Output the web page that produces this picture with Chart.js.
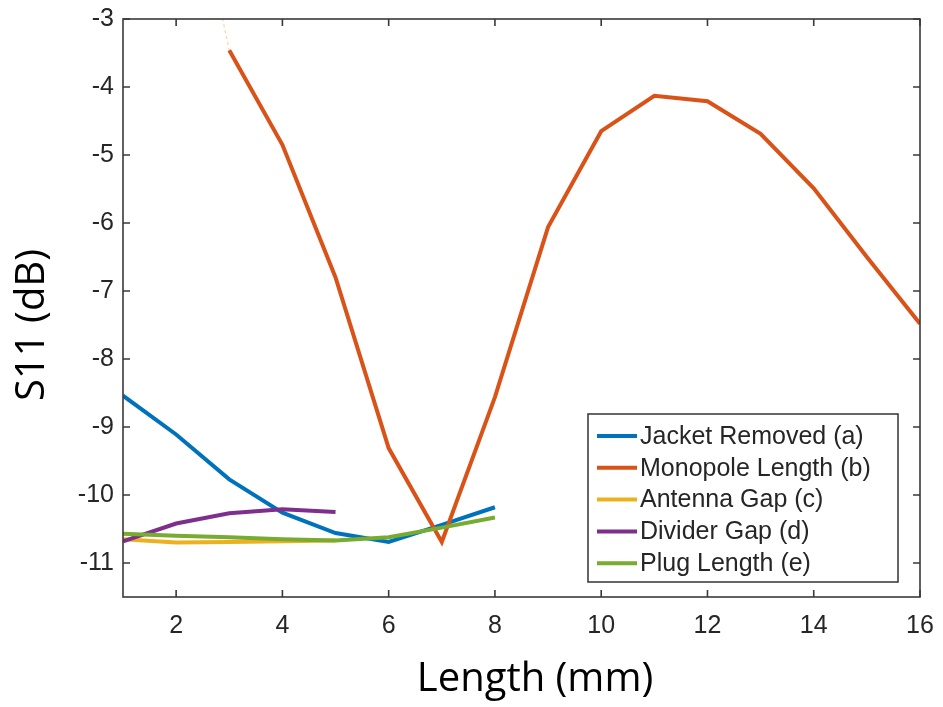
<!DOCTYPE html>
<html>
<head>
<meta charset="utf-8">
<script src="https://cdn.jsdelivr.net/npm/chart.js@4"></script>
<style>
  html, body { margin: 0; padding: 0; background: #ffffff; }
  canvas { display: block; }
</style>
</head>
<body>
<canvas id="c" width="943" height="707"></canvas>
<script>
// ---- data ----
const lengthMm      = [1, 2, 3, 4, 5, 6, 7, 8, 9, 10, 11, 12, 13, 14, 15, 16];
const jacketRemoved = [-8.54, -9.11, -9.77, -10.26, -10.56, -10.69, -10.44, -10.18];          // x = 1..8
const monopoleX     = [2, 3, 4, 5, 6, 7, 8, 9, 10, 11, 12, 13, 14, 15, 16];
const monopoleLen   = [0.2, -3.46, -4.85, -6.80, -9.31, -10.69, -8.56, -6.06, -4.65, -4.13, -4.21, -4.69, -5.49, -6.50, -7.48];
const antennaGap    = [-10.65, -10.70, -10.69, -10.68, -10.67];                              // x = 1..5
const dividerGap    = [-10.68, -10.42, -10.27, -10.21, -10.25];                              // x = 1..5
const plugLength    = [-10.57, -10.60, -10.62, -10.65, -10.67, -10.62, -10.48, -10.33];      // x = 1..8

const seriesLabels = ['Jacket Removed (a)', 'Monopole Length (b)', 'Antenna Gap (c)', 'Divider Gap (d)', 'Plug Length (e)'];
const seriesColors = ['#0072BD', '#D95319', '#EDB120', '#7E2F8E', '#77AC30'];
const xTickValues = [2, 4, 6, 8, 10, 12, 14, 16];
const yTickValues = [-3, -4, -5, -6, -7, -8, -9, -10, -11];
const xTitle = 'Length (mm)';
const yTitle = 'S11 (dB)';

function pts(xs, ys) { return ys.map((y, i) => ({ x: xs[i], y: y })); }

const seriesData = [
  pts(lengthMm, jacketRemoved),
  pts(monopoleX, monopoleLen),
  pts(lengthMm, antennaGap),
  pts(lengthMm, dividerGap),
  pts(lengthMm, plugLength)
];

const datasets = seriesData.map((d, i) => {
  const ds = {
    label: seriesLabels[i],
    data: d,
    borderColor: seriesColors[i],
    backgroundColor: seriesColors[i],
    borderWidth: 4,
    pointRadius: 0,
    tension: 0,
    fill: false,
    order: seriesData.length - 1 - i
  };
  if (i === 1) {
    ds.segment = {
      borderColor: ctx => ctx.p0DataIndex === 0 ? 'rgba(237,160,60,0.45)' : undefined,
      borderDash: ctx => ctx.p0DataIndex === 0 ? [3, 3] : undefined,
      borderWidth: ctx => ctx.p0DataIndex === 0 ? 1.2 : undefined
    };
  }
  return ds;
});

const AXIS_COLOR = '#3a3a3a';
const TEXT_COLOR = '#262626';

const framePlugin = {
  id: 'frameAndExtras',
  afterDraw(chart) {
    const ctx = chart.ctx;
    const a = chart.chartArea;
    const xs = chart.scales.x, ys = chart.scales.y;
    ctx.save();
    // frame
    ctx.strokeStyle = AXIS_COLOR;
    ctx.lineWidth = 1.6;
    ctx.strokeRect(a.left, a.top, a.right - a.left, a.bottom - a.top);
    // inward ticks
    const tl = 7;
    ctx.beginPath();
    xs.ticks.forEach(t => {
      const px = xs.getPixelForValue(t.value);
      ctx.moveTo(px, a.bottom); ctx.lineTo(px, a.bottom - tl);
      ctx.moveTo(px, a.top); ctx.lineTo(px, a.top + tl);
    });
    ys.ticks.forEach(t => {
      const py = ys.getPixelForValue(t.value);
      ctx.moveTo(a.left, py); ctx.lineTo(a.left + tl, py);
      ctx.moveTo(a.right, py); ctx.lineTo(a.right - tl, py);
    });
    ctx.stroke();

    // legend box
    const lx = a.right - 332, ly = a.bottom - 183, lw = 310, lh = 168;
    ctx.fillStyle = '#ffffff';
    ctx.fillRect(lx, ly, lw, lh);
    ctx.strokeStyle = '#333333';
    ctx.lineWidth = 1.5;
    ctx.strokeRect(lx, ly, lw, lh);
    ctx.font = '25px "Liberation Sans", Arial, sans-serif';
    ctx.textBaseline = 'middle';
    ctx.textAlign = 'left';
    chart.data.datasets.forEach((ds, i) => {
      const ry = ly + 22 + i * 31.8;
      ctx.strokeStyle = ds.borderColor;
      ctx.lineWidth = 4;
      ctx.beginPath();
      ctx.moveTo(lx + 9, ry); ctx.lineTo(lx + 49, ry);
      ctx.stroke();
      ctx.fillStyle = TEXT_COLOR;
      ctx.fillText(ds.label, lx + 52, ry + 1);
    });

    // axis titles
    ctx.fillStyle = '#000000';
    ctx.font = '40px "Open Sans", sans-serif';
    ctx.textAlign = 'center';
    ctx.textBaseline = 'middle';
    ctx.fillText(xTitle, 535, 680);
    ctx.save();
    ctx.translate(33, 325);
    ctx.rotate(-Math.PI / 2);
    ctx.fillText(yTitle, 0, 0);
    ctx.restore();
    ctx.restore();
  }
};

new Chart(document.getElementById('c'), {
  type: 'line',
  data: { datasets: datasets },
  options: {
    responsive: false,
    animation: false,
    devicePixelRatio: 1,
    layout: { padding: { left: 0, top: 19, right: 23, bottom: 0 } },
    plugins: {
      legend: { display: false },
      tooltip: { enabled: false },
      title: { display: false }
    },
    scales: {
      x: {
        type: 'linear',
        min: 1,
        max: 16,
        grid: { display: false, drawTicks: false },
        border: { display: false },
        afterBuildTicks: s => { s.ticks = xTickValues.map(v => ({ value: v })); },
        afterFit: s => { s.height = 110; s.paddingLeft = 0; s.paddingRight = 0; },
        ticks: {
          color: TEXT_COLOR,
          font: { family: '"Liberation Sans", Arial, sans-serif', size: 25 },
          padding: 14,
          maxRotation: 0,
          autoSkip: false
        }
      },
      y: {
        type: 'linear',
        min: -11.5,
        max: -3,
        grid: { display: false, drawTicks: false },
        border: { display: false },
        afterBuildTicks: s => { s.ticks = yTickValues.map(v => ({ value: v })); },
        afterFit: s => { s.width = 123; s.paddingTop = 0; s.paddingBottom = 0; },
        ticks: {
          color: TEXT_COLOR,
          font: { family: '"Liberation Sans", Arial, sans-serif', size: 25 },
          padding: 9,
          autoSkip: false
        }
      }
    }
  },
  plugins: [framePlugin]
});
</script>
</body>
</html>
